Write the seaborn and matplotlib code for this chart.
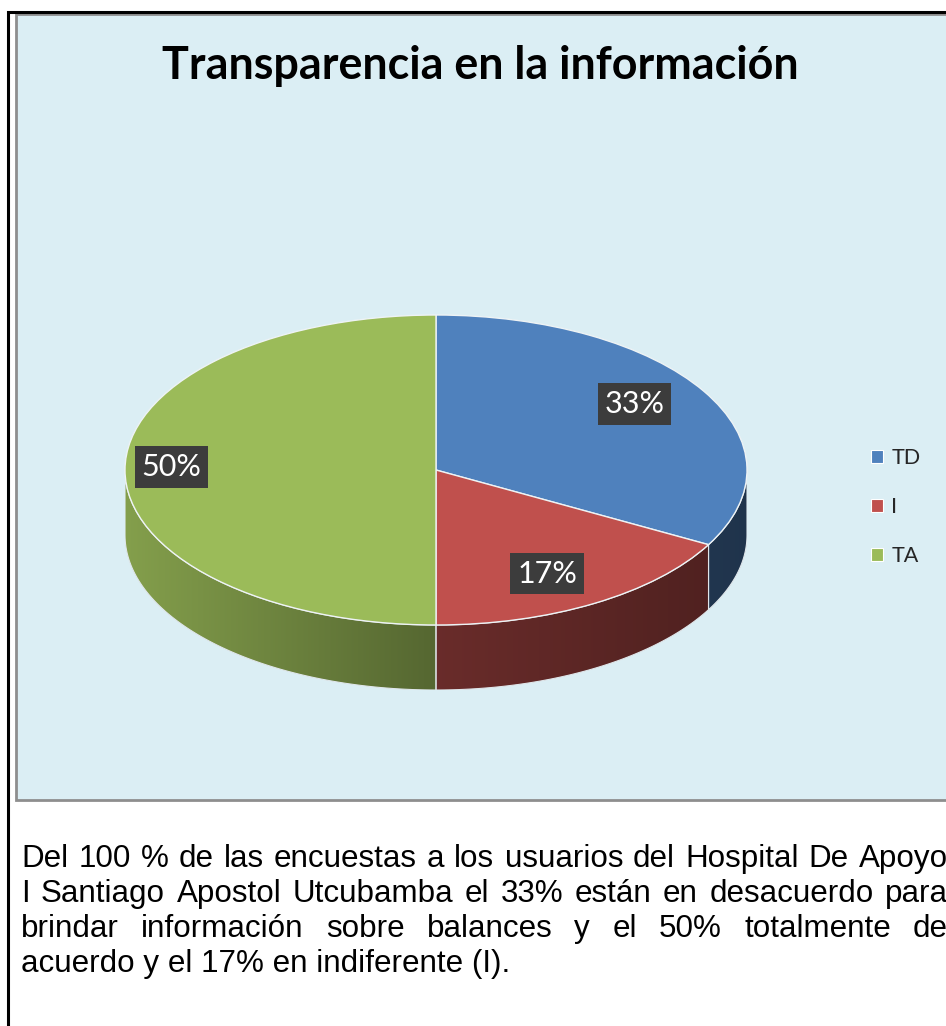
import numpy as np
import matplotlib
matplotlib.use('Agg')
import matplotlib.pyplot as plt
from matplotlib.patches import Polygon, Rectangle, Patch
import seaborn as sns

# Chart data
categories = ['TD', 'I', 'TA']
percentages = [33, 17, 50]
title = 'Transparencia en la información'
paragraph_lines = [
    'Del 100 % de las encuestas a los usuarios del Hospital De Apoyo',
    'I Santiago Apostol Utcubamba el 33% están en desacuerdo para',
    'brindar información sobre balances y el 50% totalmente de',
    'acuerdo y el 17% en indiferente (I).',
]
justified = [True, True, True, False]

sns.set_theme(style='white')
plt.rcParams['font.family'] = ['Lato', 'DejaVu Sans']
colors = sns.color_palette(['#4F81BD', '#C0504D', '#9BBB59'])

W, H = 946, 1026
fig = plt.figure(figsize=(W / 100, H / 100), dpi=100)
fig.patch.set_facecolor('white')

# background axes in pixel units
bg = fig.add_axes([0, 0, 1, 1])
bg.set_xlim(0, W)
bg.set_ylim(H, 0)
bg.axis('off')

# outer frame (left + top)
bg.plot([8, 8, W + 5], [H + 5, 12, 12], color='black', lw=2.2, solid_joinstyle='miter')
# chart area
bg.add_patch(Rectangle((16, 14), W, 786, facecolor='#dbeef4', edgecolor='#8e8e8e', lw=2))

bg.text(480, 79, title, ha='center', va='baseline', fontsize=32.3, fontweight='bold',
        color='black')

# pie axes: top ellipse spans x 125-747, y 315-625, side depth 65px
depth = 65 / 155
ax = fig.add_axes([125 / W, (H - 690) / H, 622 / W, 375 / H])
wedges, _ = ax.pie(percentages, colors=colors, startangle=90, counterclock=False,
                   wedgeprops=dict(edgecolor='#eef3f5', linewidth=1))
for w in wedges:
    w.set_zorder(3)
ax.set_aspect('auto')

# side walls of the 3D pie, shaded darker towards the right
shade_x = np.linspace(-1, 1, 256)
shade = np.interp(shade_x, [-1, 0, 1], [0.85, 0.55, 0.40])
start = 90.0
for val, col in zip(percentages, colors):
    end = start - val / sum(percentages) * 360
    lo, hi = end, start
    for k in (-360, 0, 360):
        a, b = max(lo + k, -180), min(hi + k, 0)
        if b <= a:
            continue
        t = np.radians(np.linspace(a, b, 80))
        top = np.column_stack([np.cos(t), np.sin(t)])
        bot = np.column_stack([np.cos(t), np.sin(t) - depth])[::-1]
        poly = Polygon(np.vstack([top, bot]), closed=True, facecolor='none',
                       edgecolor='#dfe6ea', lw=0.8, zorder=2)
        ax.add_patch(poly)
        grad = np.array(col)[None, None, :] * shade[None, :, None]
        im = ax.imshow(grad, extent=(-1, 1, -1 - depth, 0), aspect='auto',
                       zorder=1, interpolation='bilinear')
        im.set_clip_path(poly)
    start = end

# percentage labels
start = 90.0
for val in percentages:
    mid = np.radians(start - val / sum(percentages) * 180)
    ax.text(0.8 * np.cos(mid) - 0.05, 0.8 * np.sin(mid) + 0.02, f'{val}%',
            ha='center', va='center', fontsize=22, color='white', zorder=5,
            bbox=dict(boxstyle='square,pad=0.22', fc='#3c3c3c', ec='none'))
    start -= val / sum(percentages) * 360

ax.set_xlim(-1, 1)
ax.set_ylim(-1 - depth, 1)
ax.axis('off')

handles = [Patch(facecolor=c, edgecolor='white', lw=0.8) for c in colors]
fig.legend(handles, categories, loc='center left', bbox_to_anchor=(871 / W, 1 - 507 / H),
           frameon=False, fontsize=15.5, handlelength=0.55, handleheight=0.55,
           handletextpad=0.4, labelspacing=1.35, borderpad=0, borderaxespad=0)

# justified paragraph below the chart
fig.canvas.draw()
renderer = fig.canvas.get_renderer()
left, right = 21, 948
baselines = [867, 902, 937, 972]
for line, just, yb in zip(paragraph_lines, justified, baselines):
    words = line.split(' ')
    if not just:
        bg.text(left, yb, line, ha='left', va='baseline', fontsize=22.6,
                family='Liberation Sans', color='black')
        continue
    objs = [bg.text(0, yb, wd, ha='left', va='baseline', fontsize=22.6,
                    family='Liberation Sans', color='black') for wd in words]
    widths = [o.get_window_extent(renderer).width for o in objs]
    gap = (right - left - sum(widths)) / (len(words) - 1)
    x = left
    for o, wd in zip(objs, widths):
        o.set_x(x)
        x += wd + gap

fig.savefig('out.png', dpi=100, facecolor='white')
